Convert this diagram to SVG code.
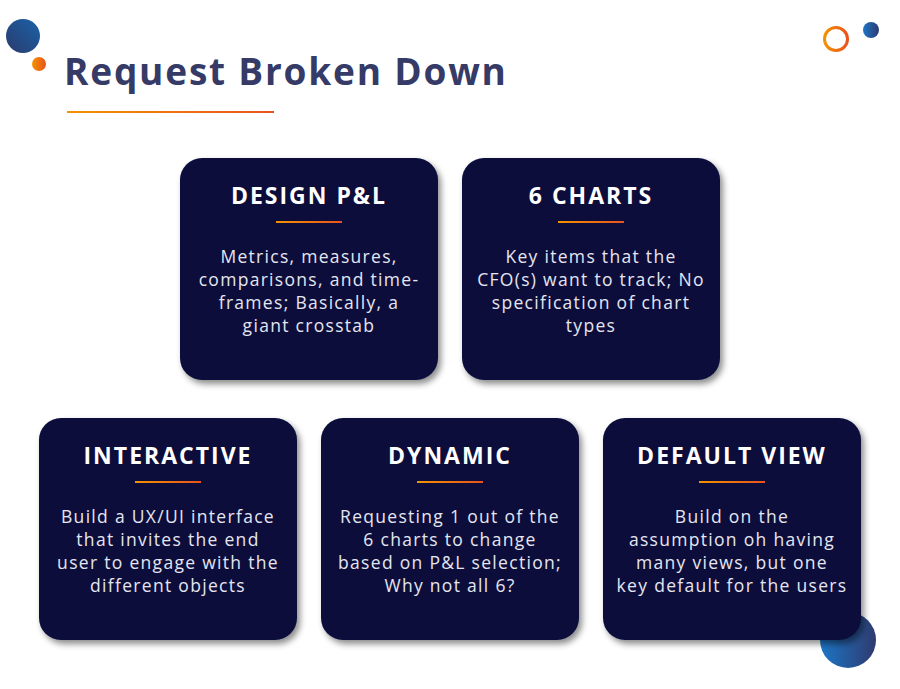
<svg xmlns="http://www.w3.org/2000/svg" width="900" height="689" viewBox="0 0 900 689">
<defs>
<linearGradient id="og" x1="0" x2="1"><stop offset="0" stop-color="#f39200"/><stop offset="1" stop-color="#e9531d"/></linearGradient>
<linearGradient id="bg" x1="0" y1="1" x2="1" y2="0"><stop offset="0" stop-color="#2b3b6e"/><stop offset="1" stop-color="#1a62a8"/></linearGradient>
<linearGradient id="bg2" x1="0" y1="0" x2="1" y2="0"><stop offset="0" stop-color="#1c76c7"/><stop offset="1" stop-color="#2f3a6e"/></linearGradient>
<filter id="sh" x="-10%" y="-10%" width="130%" height="130%"><feDropShadow dx="3" dy="4" stdDeviation="3" flood-color="#000" flood-opacity="0.45"/></filter>
<style>
.card{fill:#080d3a;filter:url(#sh)}
.t{font-family:"Open Sans","Liberation Sans",sans-serif;font-weight:700;font-size:23px;letter-spacing:2px;fill:#fff;text-anchor:middle}
.b{font-family:"Open Sans","Liberation Sans",sans-serif;font-size:17.5px;letter-spacing:1.3px;fill:#e4e6f0;text-anchor:middle}
.ln{fill:url(#og)}
</style>
</defs>
<rect width="900" height="689" fill="#fff"/>
<g id="decor">
<circle cx="23" cy="36" r="17" fill="url(#bg)"/>
<circle cx="39" cy="64" r="7" fill="url(#og)"/>
<circle cx="836" cy="39" r="11.5" fill="none" stroke="url(#og)" stroke-width="3"/>
<circle cx="871" cy="30" r="8" fill="url(#bg2)"/>
<circle cx="848" cy="640" r="28" fill="url(#bg2)"/>
</g>
<g id="title">
<text x="64" y="85" font-family="'Open Sans','Liberation Sans',sans-serif" font-weight="700" font-size="37" letter-spacing="1.8" fill="#353a66">Request Broken Down</text>
<rect class="ln" x="67" y="111" width="207" height="2"/>
</g>
<g id="design">
<rect class="card" x="180" y="158" width="258" height="222" rx="22"/>
<text class="t" x="309" y="204">DESIGN P&amp;L</text>
<rect class="ln" x="276" y="221" width="66" height="2"/>
<text class="b" x="309" y="263">Metrics, measures,</text>
<text class="b" x="309" y="286">comparisons, and time-</text>
<text class="b" x="309" y="309">frames; Basically, a</text>
<text class="b" x="309" y="332">giant crosstab</text>
</g>
<g id="charts">
<rect class="card" x="462" y="158" width="258" height="222" rx="22"/>
<text class="t" x="591" y="204">6 CHARTS</text>
<rect class="ln" x="558" y="221" width="66" height="2"/>
<text class="b" x="591" y="263">Key items that the</text>
<text class="b" x="591" y="286">CFO(s) want to track; No</text>
<text class="b" x="591" y="309">specification of chart</text>
<text class="b" x="591" y="332">types</text>
</g>
<g id="interactive">
<rect class="card" x="39" y="418" width="258" height="222" rx="22"/>
<text class="t" x="168" y="464">INTERACTIVE</text>
<rect class="ln" x="135" y="481" width="66" height="2"/>
<text class="b" x="168" y="523">Build a UX/UI interface</text>
<text class="b" x="168" y="546">that invites the end</text>
<text class="b" x="168" y="569">user to engage with the</text>
<text class="b" x="168" y="592">different objects</text>
</g>
<g id="dynamic">
<rect class="card" x="321" y="418" width="258" height="222" rx="22"/>
<text class="t" x="450" y="464">DYNAMIC</text>
<rect class="ln" x="417" y="481" width="66" height="2"/>
<text class="b" x="450" y="523">Requesting 1 out of the</text>
<text class="b" x="450" y="546">6 charts to change</text>
<text class="b" x="450" y="569">based on P&amp;L selection;</text>
<text class="b" x="450" y="592">Why not all 6?</text>
</g>
<g id="default">
<rect class="card" x="603" y="418" width="258" height="222" rx="22"/>
<text class="t" x="732" y="464">DEFAULT VIEW</text>
<rect class="ln" x="699" y="481" width="66" height="2"/>
<text class="b" x="732" y="523">Build on the</text>
<text class="b" x="732" y="546">assumption oh having</text>
<text class="b" x="732" y="569">many views, but one</text>
<text class="b" x="732" y="592">key default for the users</text>
</g>
</svg>
